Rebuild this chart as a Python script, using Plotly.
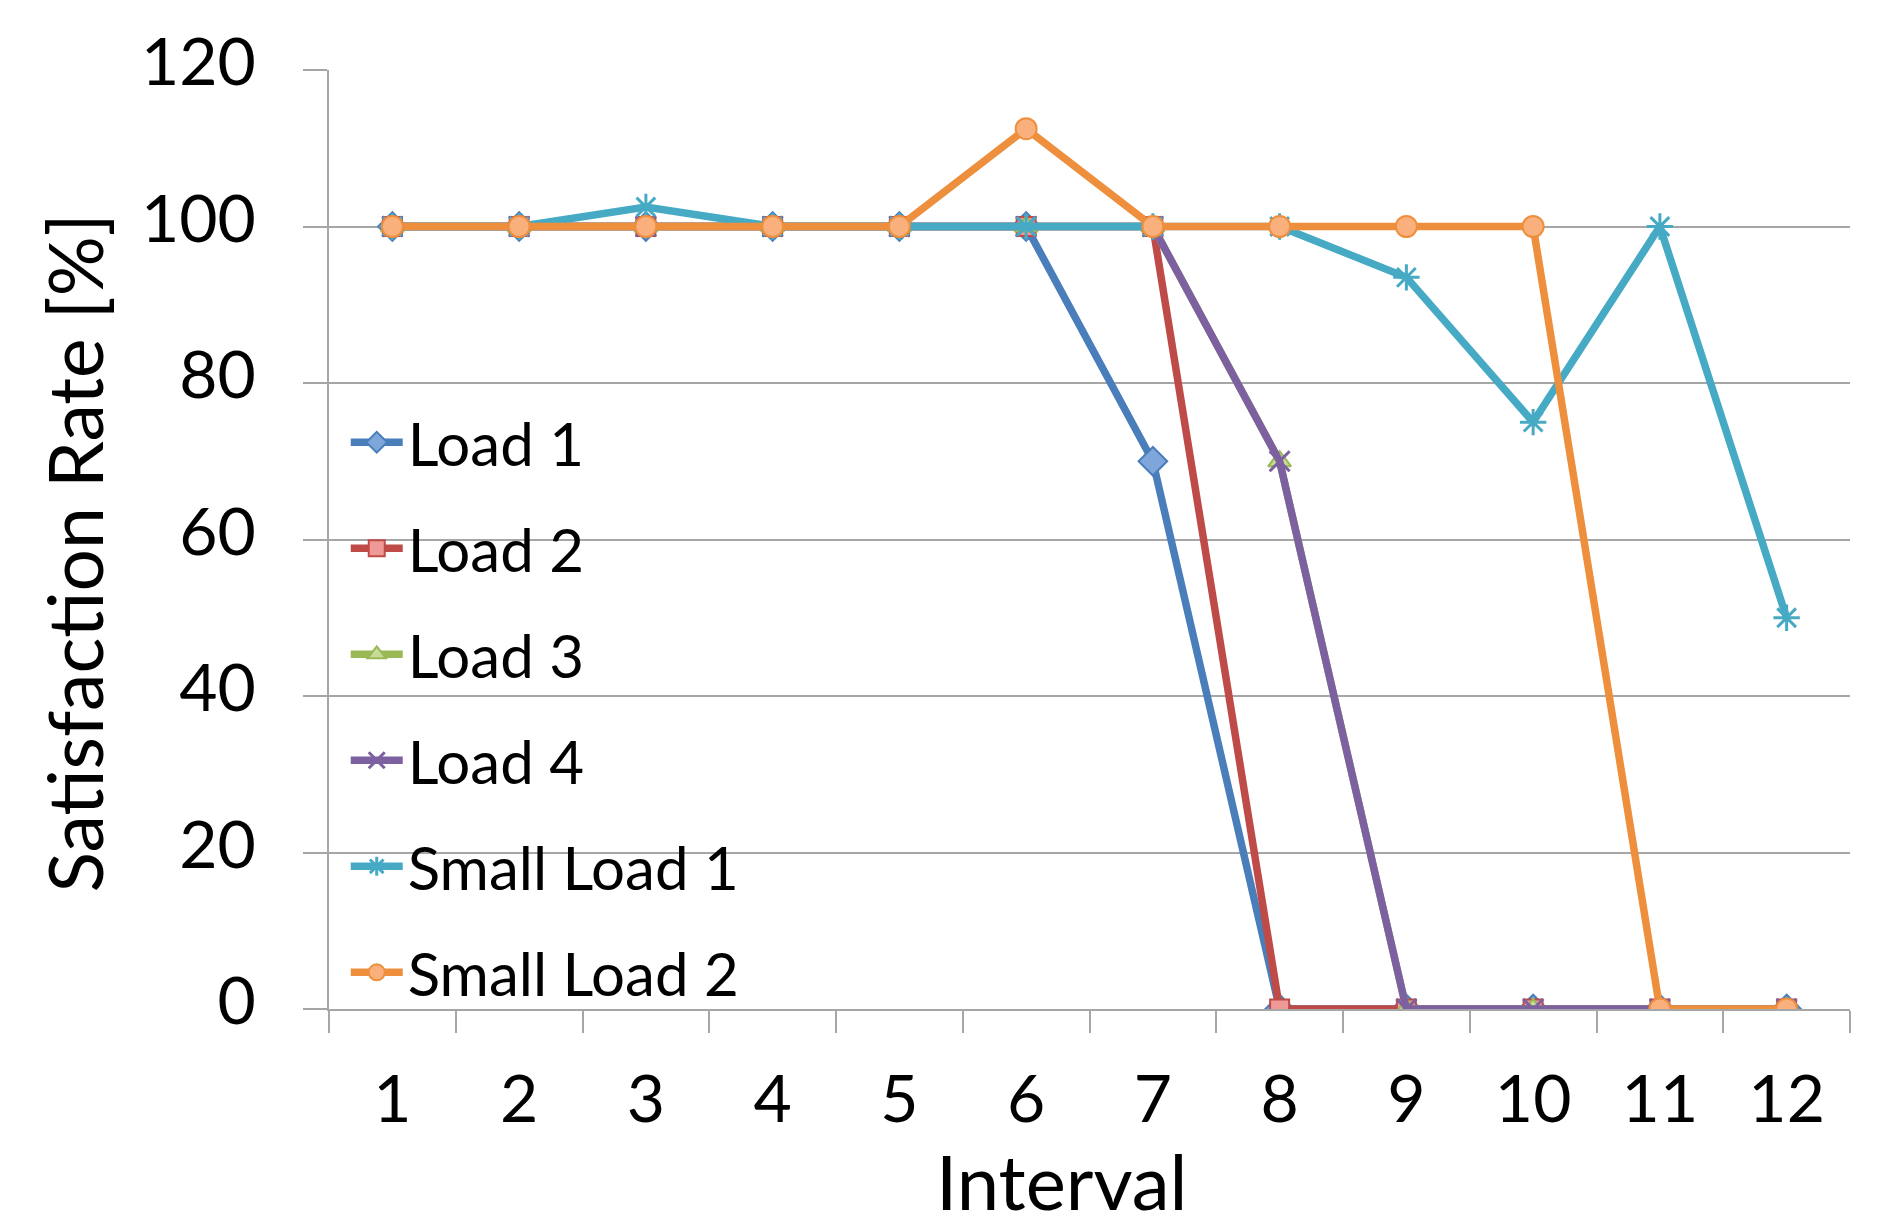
import plotly.graph_objects as go

intervals = ["1", "2", "3", "4", "5", "6", "7", "8", "9", "10", "11", "12"]
load1 = [100, 100, 100, 100, 100, 100, 70, 0, 0, 0, 0, 0]
load2 = [100, 100, 100, 100, 100, 100, 100, 0, 0, 0, 0, 0]
load3 = [100, 100, 100, 100, 100, 100, 100, 70, 0, 0, 0, 0]
load4 = [100, 100, 100, 100, 100, 100, 100, 70, 0, 0, 0, 0]
small1 = [100, 100, 102.5, 100, 100, 100, 100, 100, 93.5, 75, 100, 50]
small2 = [100, 100, 100, 100, 100, 112.5, 100, 100, 100, 100, 0, 0]
y_ticks = [0, 20, 40, 60, 80, 100, 120]

FONT = "Lato"
series = [
    ("Load 1", load1, "#4A7EBB", "diamond", "#7EA6DA", 22),
    ("Load 2", load2, "#BE4B48", "square", "#F09A98", 19),
    ("Load 3", load3, "#98B954", "triangle-up", "#C6DB98", 20),
    ("Load 4", load4, "#7D60A0", "x-thin", "#7D60A0", 20),
    ("Small Load 1", small1, "#46AAC5", "asterisk", "#46AAC5", 22),
    ("Small Load 2", small2, "#EE8F3E", "circle", "#FAB07C", 21),
]

fig = go.Figure()
for i, (name, vals, col, sym, fill, msize) in enumerate(series):
    open_sym = sym in ("x-thin", "asterisk")
    fig.add_trace(go.Scatter(
        x=intervals, y=vals, name=name, mode="lines+markers",
        line=dict(color=col, width=7.5),
        marker=dict(symbol=sym, size=msize, color=fill,
                    line=dict(color=col, width=3 if open_sym else 2)),
        legendgroup=f"g{i}",
    ))

fig.add_annotation(
    text="Interval", xref="paper", yref="paper", x=0.482, y=0,
    xanchor="center", yanchor="top", yshift=-124, showarrow=False,
    font=dict(family=FONT, size=76, color="black"),
)
fig.add_annotation(
    text="Satisfaction Rate [%]", xref="paper", yref="paper", x=-0.1677, y=0.486,
    xanchor="center", yanchor="middle", textangle=-90, showarrow=False,
    font=dict(family=FONT, size=75, color="black"),
)

fig.update_layout(
    width=1904, height=1232,
    margin=dict(l=321, r=62, t=60, b=231),
    paper_bgcolor="white", plot_bgcolor="white",
    font=dict(family=FONT, color="black"),
    showlegend=True,
    legend=dict(
        x=0.011, y=0.652, xanchor="left", yanchor="top",
        bgcolor="rgba(0,0,0,0)", borderwidth=0,
        font=dict(family=FONT, size=60, color="black"),
        traceorder="grouped", tracegroupgap=25, itemwidth=52,
    ),
    xaxis=dict(
        type="category", range=[-0.5, 11.5],
        tickson="boundaries", ticks="outside", ticklen=22, tickwidth=2,
        tickcolor="#A6A6A6", showline=True, linecolor="#A6A6A6", linewidth=2,
        showgrid=False, zeroline=False,
        tickfont=dict(family=FONT, size=66, color="black"),
        ticklabelstandoff=32,
    ),
    yaxis=dict(
        range=[0, 120], tickvals=y_ticks, ticks="outside", ticklen=24, tickwidth=2,
        tickcolor="#A6A6A6", showline=True, linecolor="#A6A6A6", linewidth=2,
        showgrid=True, gridcolor="#A6A6A6", gridwidth=2, zeroline=False,
        tickfont=dict(family=FONT, size=66, color="black"),
        ticklabelstandoff=34, ticklabelshift=-8,
    ),
)

fig.write_html("out.html")
